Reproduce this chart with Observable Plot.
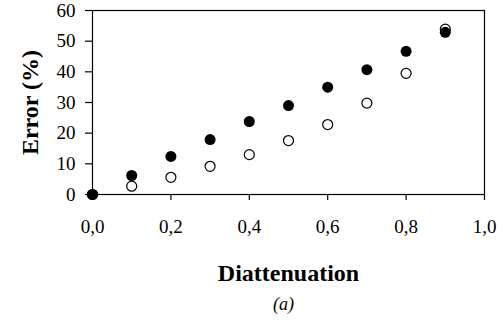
<!DOCTYPE html>
<html>
<head>
<meta charset="utf-8">
<script src="https://cdn.jsdelivr.net/npm/d3@7"></script>
<script src="https://cdn.jsdelivr.net/npm/@observablehq/plot@0.6"></script>
<style>
  html, body { margin: 0; padding: 0; background: #fff; }
</style>
</head>
<body>
<div id="chart"></div>
<script>
const diattenuation = [0, 0.1, 0.2, 0.3, 0.4, 0.5, 0.6, 0.7, 0.8, 0.9];
const errorFilled = [0, 6.2, 12.4, 17.9, 23.8, 29.0, 35.0, 40.7, 46.7, 52.9];
const errorOpen = [0, 2.7, 5.6, 9.2, 13.0, 17.6, 22.8, 29.8, 39.5, 53.9];
const xTicks = [0, 0.2, 0.4, 0.6, 0.8, 1.0];
const yTicks = [0, 10, 20, 30, 40, 50, 60];
const xLabel = "Diattenuation";
const yLabel = "Error (%)";
const captionText = "(a)";

const filledData = diattenuation.map((d, i) => ({x: d, y: errorFilled[i]}));
const openData = diattenuation.map((d, i) => ({x: d, y: errorOpen[i]}));
const fmt = d => d3.format(".1f")(d).replace(".", ",");
const font = "'Liberation Serif', 'Times New Roman', serif";

const chart = Plot.plot({
  width: 503,
  height: 320,
  marginLeft: 92,
  marginRight: 19,
  marginTop: 10,
  marginBottom: 126,
  style: {fontFamily: font, background: "#fff", color: "#000"},
  x: {domain: [0, 1]},
  y: {domain: [0, 60]},
  marks: [
    Plot.frame({stroke: "#000", strokeWidth: 1.2}),
    Plot.axisX({ticks: xTicks, tickFormat: fmt, tickSize: 6, tickPadding: 19, fontSize: 19, label: null, strokeWidth: 1.2}),
    Plot.axisY({ticks: yTicks, tickSize: 7, tickPadding: 10, fontSize: 19, label: null, strokeWidth: 1.2}),
    Plot.dot(openData, {x: "x", y: "y", r: 5, fill: "#fff", stroke: "#000", strokeWidth: 1.2}),
    Plot.dot(filledData, {x: "x", y: "y", r: 5.5, fill: "#000", stroke: "none"}),
    Plot.text([xLabel], {text: d => d, frameAnchor: "bottom", lineAnchor: "bottom", dy: 86, fontSize: 24, fontWeight: "bold", fill: "#000"}),
    Plot.text([yLabel], {text: d => d, frameAnchor: "left", textAnchor: "middle", lineAnchor: "bottom", rotate: -90, dx: -55, fontSize: 24, fontWeight: "bold", fill: "#000"}),
    Plot.text([captionText], {text: d => d, frameAnchor: "bottom", lineAnchor: "bottom", dy: 115, dx: -5, fontSize: 18, fontStyle: "italic", fill: "#000"})
  ]
});
document.getElementById("chart").appendChild(chart);
</script>
</body>
</html>
